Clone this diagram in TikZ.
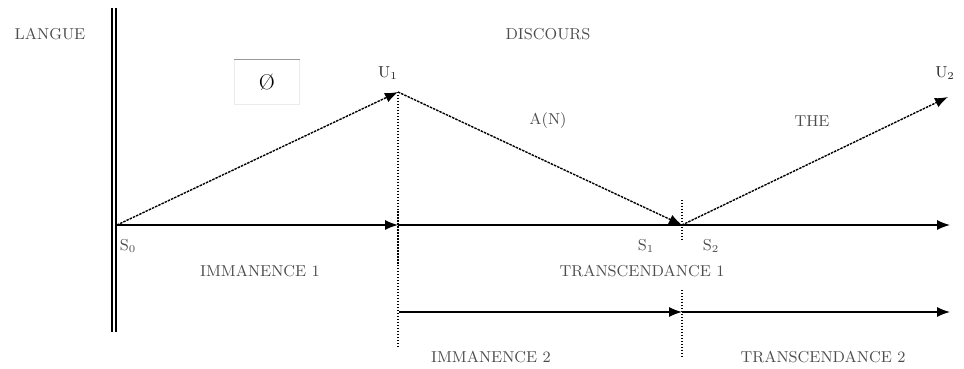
\documentclass[tikz,border=0pt]{standalone}
\usepackage{xcolor}
\usepackage{tikz}
\usetikzlibrary{arrows.meta, positioning}

\begin{document}
\begin{tikzpicture}[
  x=0.2mm, y=-0.2mm,
  lbl/.style={text=black!70, font=\small, inner sep=1pt},
  edge/.style={-{Latex[length=2.6mm, width=2mm]}, line width=0.8pt},
  seg/.style={line width=0.8pt, dash pattern=on 1.4pt off 0.6pt},
  limitline/.style={densely dotted, line width=0.7pt}
]
\useasboundingbox (0,0) rectangle (964,369);

% points of the path
\coordinate (s0) at (117,225);
\coordinate (u1) at (398,92);
\coordinate (s1) at (682,225);
\coordinate (u2) at (948,97);
\coordinate (m1) at (398,225);
\coordinate (e1) at (950,225);
\coordinate (a2) at (399,312);
\coordinate (b2) at (682,312);
\coordinate (e2) at (950,312);

% langue / discours border
\draw[line width=0.6pt] (112,8) -- (112,332);
\draw[line width=0.6pt] (116,8) -- (116,332);

\node[lbl] (langue) at (50,34) {LANGUE};
\node[lbl] (discours) at (548,34) {DISCOURS};
\node[draw=black!8, line width=0.3pt, minimum width=13mm, minimum height=9mm, font=\large] (vide) at (267,82) {\O};
\draw[black!40, line width=0.4pt] (vide.north west) -- (vide.north east);

% path through the utterances
\draw[edge, seg] (s0) -- (u1);
\draw[edge, seg] (u1) -- (s1);
\draw[edge, seg] (s1) -- (u2);

\draw[edge] (s0) -- (m1);
\draw[edge] (m1) -- (e1);
\draw[edge] (a2) -- (b2);
\draw[edge] (b2) -- (e2);

% limits
\draw[limitline] (u1) -- (398,346);
\draw[limitline] (682,200) -- (s1) -- (682,240);
\draw[limitline] (682,290) -- (682,356);

\node[lbl, text=black!85] (lu1) at (388,73) {U$_1$};
\node[lbl, text=black!85] (lu2) at (945,73) {U$_2$};
\node[lbl] (an) at (548,121) {A(N)};
\node[lbl] (the) at (812,121) {THE};
\node[lbl] (ls0) at (128,246) {S$_0$};
\node[lbl] (ls1) at (646,246) {S$_1$};
\node[lbl] (ls2) at (711,246) {S$_2$};

\node[lbl] (imm1) at (260,271) {IMMANENCE 1};
\node[lbl] (tra1) at (642,271) {TRANSCENDANCE 1};
\node[lbl] (imm2) at (491,357) {IMMANENCE 2};
\node[lbl] (tra2) at (823,357) {TRANSCENDANCE 2};
\end{tikzpicture}
\end{document}
